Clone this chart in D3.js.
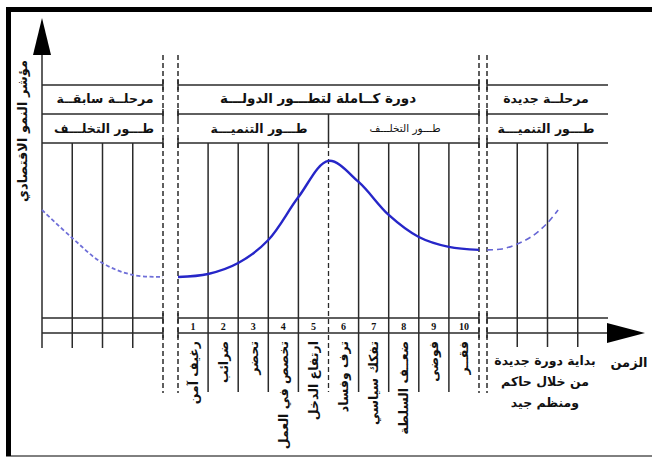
<!DOCTYPE html>
<html><head><meta charset="utf-8">
<script src="https://cdn.jsdelivr.net/npm/d3@7"></script>
<style>body{margin:0;background:#fff}svg{display:block}text{font-family:"DejaVu Sans",sans-serif}</style>
</head><body><svg id="c" width="652" height="457"></svg>
<script>
// ---- data ----
const prevX = [-4, -3, -2, -1, 0];
const prevY = [49.6, 38.3, 28.2, 23.4, 22.6];
const midX = [0, 1, 2, 3, 4, 5, 6, 7, 8, 9, 10];
const midY = [22.6, 23.8, 28.2, 37.5, 54.8, 69.4, 60.9, 47.6, 38.7, 34.7, 33.5];
const nextX = [10, 10.5, 11, 11.5, 12, 12.35];
const nextY = [33.5, 33.9, 35.9, 39.1, 44.4, 49.6];
const stepNumbers = ["1","2","3","4","5","6","7","8","9","10"];
const stepLabels = ["رغيف آمن","ضرائب","تحضر","تخصص في العمل","ارتفاع الدخل","ترف وفساد","تفكك سياسي","ضعــف السلطة","فوضى","فقــر"];
const phaseTop = ["مرحلــة سابقــة","دورة كــاملة لتطـــور الدولـــة","مرحلــة جديدة"];
const phaseSub = ["طـــور التخلـــف","طـــور التنميـــة","طـــور التخلـــف","طـــور التنميـــة"];
const newCycleText = ["بداية دورة جديدة","من خلال حاكم","ومنظم جيد"];
const yTitle = "مؤشر النمو الاقتصادي";
const xTitle = "الزمن";

// ---- scales ----
const xPrev = d3.scaleLinear().domain([-4, 0]).range([42, 163]);
const xMid = d3.scaleLinear().domain([0, 10]).range([178, 479]);
const xNext = d3.scaleLinear().domain([10, 14]).range([487, 608]);
const y = d3.scaleLinear().domain([0, 100]).range([333, 85]);

const svg = d3.select("#c");
const G = "#2a2a2a";
const line = (x1,y1,x2,y2,w=1.5,dash=null,col=G)=>{
  const l = svg.append("line").attr("x1",x1).attr("y1",y1).attr("x2",x2).attr("y2",y2)
    .attr("stroke",col).attr("stroke-width",w);
  if(dash) l.attr("stroke-dasharray",dash);
  return l;
};

// frame
svg.append("rect").attr("x",6).attr("y",7).attr("width",646).attr("height",5).attr("fill","#000");
svg.append("rect").attr("x",6).attr("y",7).attr("width",5).attr("height",449).attr("fill","#000");
line(6,456,652,456,1,null,"#000");

// rows
const rowY = [85,114,143];
const regions = [[xPrev(-4), xPrev(0)],[xMid(0), xMid(10)],[xNext(10), xNext(14)]];
rowY.forEach(ry=>regions.forEach(([a,b])=>line(a, ry, b, ry)));
regions.forEach(([a,b])=>line(a,318,b,318));
// x axis (broken at the dashed gaps)
line(xPrev(-4),333,xPrev(0),333);
line(xMid(0),333,xMid(10),333);
line(xNext(10),333,607,333);
svg.append("path").attr("d","M607,323L645,333L607,343Z").attr("fill","#000");

// small ticks at region joins
[xPrev(0), xMid(0), xMid(10), xNext(10)].forEach(x=>[85,114,143,318,333].forEach(ry=>line(x,ry-5,x,ry+5,1.5)));

// y axis
line(42,52,42,348,1.5);
svg.append("path").attr("d","M42,18L51,55L33,55Z").attr("fill","#000");

// vertical grid
[-3,-2,-1].forEach(v=>line(xPrev(v),143,xPrev(v),348));
[1,2,3,4,6,7,8,9].forEach(v=>line(xMid(v),143,xMid(v),392));
[11,12,13].forEach(v=>line(xNext(v),143,xNext(v),347));
line(xMid(5),114,xMid(5),143);
line(xMid(5),143,xMid(5),392,1.3,"5,3");
// dashed separators
[xPrev(0), xMid(0), xMid(10), xNext(10)].forEach(x=>line(x,55,x,393,1.5,"5,3"));

// curves
const mk = (xs,ys,sx)=>d3.line().x((d,i)=>sx(xs[i])).y((d,i)=>y(ys[i])).curve(d3.curveCatmullRom.alpha(0.5))(ys);
svg.append("path").attr("d",mk(prevX,prevY,xPrev)).attr("fill","none").attr("stroke","#6f6fd8").attr("stroke-width",1.8).attr("stroke-dasharray","4,2.5");
svg.append("path").attr("d",mk(midX,midY,xMid)).attr("fill","none").attr("stroke","#2626c8").attr("stroke-width",2.4);
svg.append("path").attr("d",mk(nextX,nextY,xNext)).attr("fill","none").attr("stroke","#6565d4").attr("stroke-width",1.6).attr("stroke-dasharray","6,4");

// header text
const tx = (x,yy,t,size,weight="bold")=>svg.append("text").attr("x",x).attr("y",yy).attr("text-anchor","middle")
  .attr("dominant-baseline","central").attr("font-size",size).attr("font-weight",weight).attr("fill","#111").text(t);
tx(105, 98, phaseTop[0], 12.5);
tx(318, 98, phaseTop[1], 13.5);
tx(546, 98, phaseTop[2], 12.5);
tx(104, 128, phaseSub[0], 12.5);
tx(259, 128, phaseSub[1], 12.5);
tx(405, 128, phaseSub[2], 10.5, "normal");
tx(546, 128, phaseSub[3], 12.5);

// step numbers
stepNumbers.forEach((n,i)=>svg.append("text").attr("x",xMid(i+0.5)).attr("y",326).attr("text-anchor","middle")
  .attr("dominant-baseline","central").attr("font-weight","bold")
  .attr("font-size",10).attr("fill","#111").text(n).style("font-family","'Liberation Serif',serif"));

// step labels (vertical)
stepLabels.forEach((t,i)=>svg.append("text").attr("transform",`translate(${xMid(i+0.5)},341) rotate(-90)`)
  .attr("text-anchor","end").attr("dominant-baseline","central").attr("font-size",12.5).attr("font-weight","bold")
  .attr("fill","#111").text(t));

// new cycle text
newCycleText.forEach((t,i)=>tx(545, 360+i*21, t, 12.5));
tx(629, 362, xTitle, 13);

// y title
svg.append("text").attr("transform","translate(22,60) rotate(-90)").attr("text-anchor","end")
  .attr("dominant-baseline","central").attr("font-size",13).attr("font-weight","bold").attr("fill","#111").text(yTitle);
</script></body></html>
